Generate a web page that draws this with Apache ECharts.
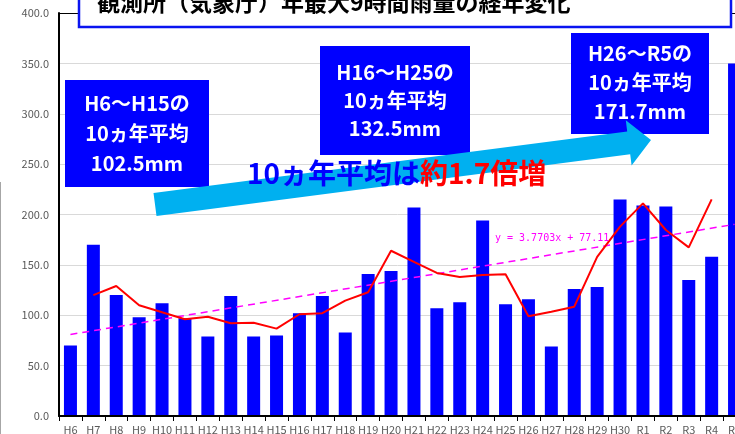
<!DOCTYPE html>
<html>
<head>
<meta charset="utf-8">
<script src="https://cdn.jsdelivr.net/npm/echarts@6/dist/echarts.min.js"></script>
<style>
  html, body { margin: 0; padding: 0; background: #fff; }
  #chart { width: 735px; height: 434px; }
</style>
</head>
<body>
<div id="chart"></div>
<script>
// 年 (平成・令和)
const years = ['H6', 'H7', 'H8', 'H9', 'H10', 'H11', 'H12', 'H13', 'H14', 'H15',
  'H16', 'H17', 'H18', 'H19', 'H20', 'H21', 'H22', 'H23', 'H24', 'H25',
  'H26', 'H27', 'H28', 'H29', 'H30', 'R1', 'R2', 'R3', 'R4', 'R5']
// 年最大9時間雨量 (mm)
const rain = [70, 170, 120, 98, 112, 97, 79, 119, 79, 80,
  102, 119, 83, 141, 144, 207, 107, 113, 194, 111,
  116, 69, 126, 128, 215, 209, 208, 135, 158, 350]
// 移動平均 (赤線)
const movingAvg = [null, 120, 129, 110, 103, 96, 98.5, 92, 92.6, 86.7,
  101, 102, 114.5, 122.8, 164, 153, 142, 138, 140, 140.6,
  99, 103.5, 108.5, 158, 188, 211, 184.6, 167.4, 215, null]
// 近似直線 y = 3.7703x + 77.11 の両端
const trendStart = 80.9
const trendEnd = 190.2
const trendLabel = 'y = 3.7703x + 77.11'
const yTicks = { min: 0, max: 400, interval: 50 }

const titleText = '観測所（気象庁）年最大9時間雨量の経年変化'
const boxTexts = [
  'H6～H15の\n10ヵ年平均\n102.5mm',
  'H16～H25の\n10ヵ年平均\n132.5mm',
  'H26～R5の\n10ヵ年平均\n171.7mm'
]

const FONT = '"Noto Sans CJK JP", "Noto Sans", sans-serif'
const chart = echarts.init(document.getElementById('chart'))

chart.setOption({
  animation: false,
  grid: { left: 59, top: 13, width: 687, height: 403, outerBoundsMode: 'none' },
  xAxis: [
    {
      type: 'category',
      data: years,
      axisLine: { lineStyle: { color: '#000', width: 2 } },
      axisTick: { show: true, length: 5, lineStyle: { color: '#000' } },
      axisLabel: { interval: 0, color: '#595959', fontSize: 11, margin: 8, fontFamily: FONT },
      z: 10
    },
    {
      type: 'category',
      data: years,
      position: 'top',
      axisLine: { show: true, lineStyle: { color: '#000', width: 1 } },
      axisTick: { show: false },
      axisLabel: { show: false }
    }
  ],
  yAxis: {
    type: 'value',
    min: yTicks.min,
    max: yTicks.max,
    interval: yTicks.interval,
    axisLine: { show: true, lineStyle: { color: '#000', width: 2 } },
    axisTick: { show: false },
    splitLine: { lineStyle: { color: '#d9d9d9' } },
    axisLabel: {
      color: '#595959',
      fontSize: 11,
      margin: 10,
      fontFamily: FONT,
      formatter: (v) => v.toFixed(1)
    }
  },
  series: [
    {
      name: '年最大9時間雨量',
      type: 'bar',
      data: rain,
      barWidth: 13,
      itemStyle: { color: '#0000ff' },
      markLine: {
        silent: true,
        symbol: 'none',
        label: { show: false },
        lineStyle: { color: '#ff00ff', type: [7, 5], width: 1.5 },
        data: [[{ coord: ['H6', trendStart] }, { coord: ['R5', trendEnd] }]]
      }
    },
    {
      name: '移動平均',
      type: 'line',
      data: movingAvg,
      symbol: 'none',
      lineStyle: { color: '#ff0000', width: 2 },
      z: 5
    }
  ],
  graphic: [
    // left edge gray line
    { type: 'line', shape: { x1: 0.5, y1: 182, x2: 0.5, y2: 434 }, style: { stroke: '#a6a6a6', lineWidth: 1 } },
    // title
    { type: 'rect', shape: { x: 79, y: -40, width: 652, height: 67 }, style: { fill: '#fff', stroke: '#0a14f0', lineWidth: 2.5 }, z: 20 },
    { type: 'text', x: 97, y: 2, z: 21, style: { text: titleText, fill: '#000', font: 'bold 23px ' + FONT, align: 'left', verticalAlign: 'middle' } },
    // 10-year average boxes
    { type: 'rect', shape: { x: 65, y: 80, width: 144, height: 107 }, style: { fill: '#0000ff' }, z: 20 },
    { type: 'text', x: 137, y: 133, z: 21, style: { text: boxTexts[0], fill: '#fff', font: 'bold 20px ' + FONT, align: 'center', verticalAlign: 'middle', lineHeight: 30 } },
    { type: 'rect', shape: { x: 320, y: 46, width: 150, height: 109 }, style: { fill: '#0000ff' }, z: 20 },
    { type: 'text', x: 395, y: 100, z: 21, style: { text: boxTexts[1], fill: '#fff', font: 'bold 20px ' + FONT, align: 'center', verticalAlign: 'middle', lineHeight: 28 } },
    { type: 'rect', shape: { x: 571, y: 33, width: 138, height: 101 }, style: { fill: '#0000ff' }, z: 20 },
    { type: 'text', x: 640, y: 82, z: 21, style: { text: boxTexts[2], fill: '#fff', font: 'bold 20px ' + FONT, align: 'center', verticalAlign: 'middle', lineHeight: 29 } },
    // arrow
    {
      type: 'polygon', z: 22,
      shape: { points: [[153.5, 193.1], [627.2, 131.5], [625.8, 120.3], [651, 140], [631.6, 165.5], [630.2, 154.3], [156.5, 215.9]] },
      style: { fill: '#00b0f0' }
    },
    // emphasis text
    {
      type: 'text', x: 247, y: 173, z: 23,
      style: {
        text: '{b|10ヵ年平均は}{r|約1.7倍増}',
        verticalAlign: 'middle',
        align: 'left',
        rich: {
          b: { fill: '#0000ff', font: 'bold 28px ' + FONT },
          r: { fill: '#ff0000', font: 'bold 28px ' + FONT }
        }
      }
    },
    // trend label
    { type: 'text', x: 495, y: 238, z: 21, style: { text: trendLabel, fill: '#ff00ff', font: '10px "DejaVu Sans Mono", monospace', align: 'left', verticalAlign: 'middle' } }
  ]
})
</script>
</body>
</html>
